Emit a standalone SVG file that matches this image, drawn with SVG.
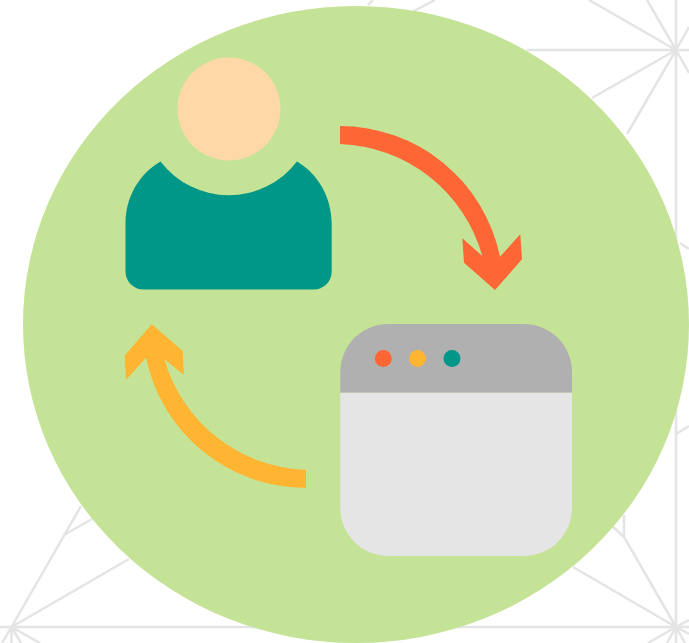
<svg xmlns="http://www.w3.org/2000/svg" width="689" height="643" viewBox="0 0 689 643">
<style>
.bg{stroke:#e4e4e4;stroke-width:2.5;fill:none}
</style>
<rect width="689" height="643" fill="#fff"/>
<g id="background-pattern" class="bg">
<path d="M676 0V643M527 50H689M676 50L592 98M676 50L627 134M676 50L647 0M676 50L589 0M676 50L689 27M676 50L689 73"/>
<path d="M368 5L373 0M412 12L435 0"/>
<path d="M680 243L689 249M676 434L689 426"/>
<path d="M11.5 627L81 506M64 535L92 519M11.5 627L129 559M0 627H689M11.5 627V643M11.5 627L2 643M11.5 627L21 643M11.5 627L40 643"/>
<path d="M676 627L624 537V515M624 537L612 526M676 627L573 567M676 627L689 620M676 627L648 643M676 627L667 643M676 627L685 643M676 627L689 634"/>
</g>
<ellipse id="backdrop" cx="356" cy="324.5" rx="333" ry="318.5" fill="#c4e396"/>
<g id="user">
<circle cx="229" cy="109" r="51.5" fill="#ffd8a8"/>
<path d="M160.5 161.5A86 86 0 0 0 297 161.5C318 174 331.7 197 331.7 224V271.5A18 18 0 0 1 313.7 289.5H143.5A18 18 0 0 1 125.5 271.5V224C125.5 197 139 174 160.5 161.5Z" fill="#009688"/>
</g>
<g id="window">
<path d="M340.3 392.7V372A48 48 0 0 1 388.3 324H524A48 48 0 0 1 572 372V392.7Z" fill="#b0b0b0"/>
<path d="M340.3 392.7H572V508A48 48 0 0 1 524 556H388.3A48 48 0 0 1 340.3 508Z" fill="#e5e5e5"/>
<circle cx="383.3" cy="358.5" r="8.5" fill="#ff6636"/>
<circle cx="417.5" cy="358.5" r="8.5" fill="#ffb531"/>
<circle cx="452" cy="358.5" r="8.5" fill="#009688"/>
</g>
<g id="connectors">
<path fill="#ff6636" d="M340 126A163.5 163.5 0 0 1 500 256.7L520.3 234.3L522 259.3L495 290L464 262.7L462.3 238.3L482.3 256A153 153 0 0 0 340 144Z"/>
<path fill="#ffb531" d="M306 488A163.5 163.5 0 0 1 146 357.7L126 380L124.7 355.5L151.7 324.3L182.7 351L184 375L164.3 359A153 153 0 0 0 306 470Z"/>
</g>
</svg>
